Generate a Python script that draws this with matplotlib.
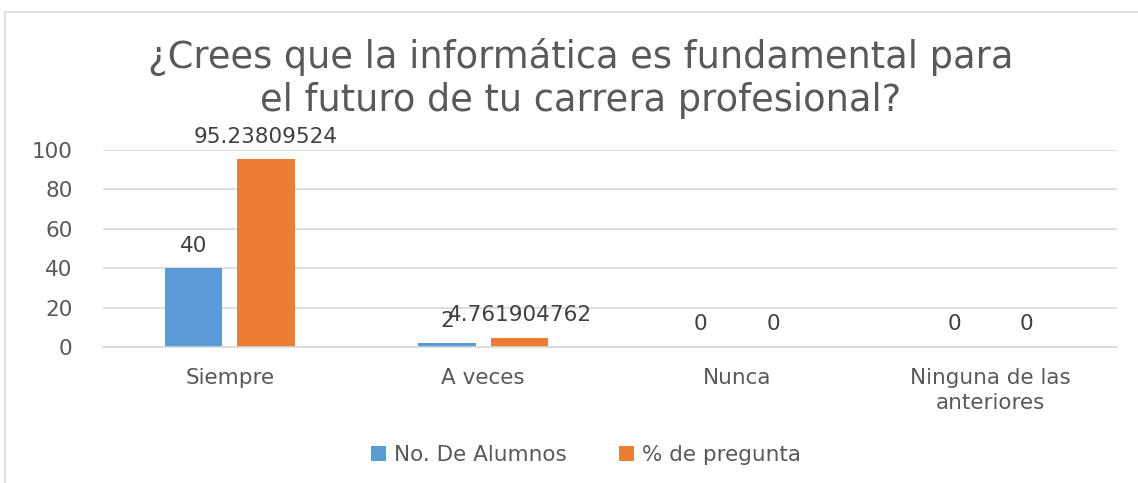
import numpy as np
import matplotlib.pyplot as plt
from matplotlib.patches import Rectangle

# data
categories = ["Siempre", "A veces", "Nunca", "Ninguna de las\nanteriores"]
alumnos = [40, 2, 0, 0]
porcentaje = [95.23809524, 4.761904762, 0, 0]
alumnos_labels = ["40", "2", "0", "0"]
porcentaje_labels = ["95.23809524", "4.761904762", "0", "0"]
series_names = ["No. De Alumnos", "% de pregunta"]

plt.rcParams['font.family'] = ['DejaVu Sans']
text_color = "#595959"
blue = "#5B9BD5"
orange = "#ED7D31"
fs = 15.5

fig = plt.figure(figsize=(11.38, 4.83), dpi=100)
ax = fig.add_axes([0.0905, 0.2816, 0.8911, 0.4078])

# chart frame
fig.patches.append(Rectangle((5 / 1138, -0.05), 1.2, 1 - 12 / 483 + 0.05,
                             transform=fig.transFigure, fill=False,
                             edgecolor="#d9d9d9", linewidth=1.2))

x = np.arange(len(categories))
w = 0.225
off = 0.143
b1 = ax.bar(x - off, alumnos, w, color=blue, label=series_names[0])
b2 = ax.bar(x + off, porcentaje, w, color=orange, label=series_names[1])

# data labels (the "2" and "4.76..." overlap in the original chart too)
for bars, labels in [(b1, alumnos_labels), (b2, porcentaje_labels)]:
    for rect, lab in zip(bars, labels):
        ax.annotate(lab, (rect.get_x() + rect.get_width() / 2, rect.get_height()),
                    xytext=(0, 9), textcoords="offset points", ha="center",
                    va="bottom", fontsize=fs, color="#404040")

ax.set_xlim(-0.5, len(categories) - 0.5)
ax.set_ylim(0, 100)
ax.set_yticks(np.arange(0, 101, 20))
ax.set_xticks(x)
ax.set_xticklabels(categories, fontsize=fs, color=text_color, linespacing=1.3)
ax.tick_params(axis="y", labelsize=fs, labelcolor=text_color, length=0, pad=22)
ax.tick_params(axis="x", length=0, pad=15)
ax.grid(axis="y", color="#d9d9d9", linewidth=1.2)
ax.set_axisbelow(True)
for s in ["top", "right", "left"]:
    ax.spines[s].set_visible(False)
ax.spines["bottom"].set_color("#d9d9d9")
ax.spines["bottom"].set_linewidth(1.2)

fig.text(0.51, 0.837, "¿Crees que la informática es fundamental para\nel futuro de tu carrera profesional?",
         ha="center", va="center", fontsize=26.5, color=text_color, linespacing=1.2)

fig.legend(loc="center", bbox_to_anchor=(0.515, 0.058), ncol=2, frameon=False,
           fontsize=fs, labelcolor=text_color, handlelength=0.7, handleheight=0.7,
           handletextpad=0.4, columnspacing=2.4)

fig.savefig("out.png", dpi=100)
